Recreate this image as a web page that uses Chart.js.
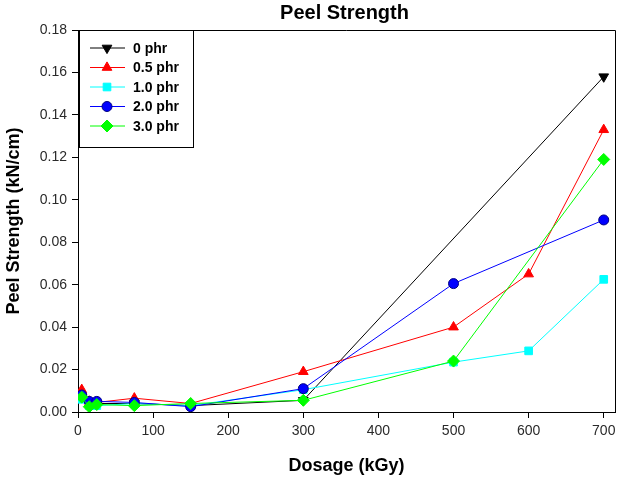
<!DOCTYPE html>
<html>
<head>
<meta charset="utf-8">
<script src="https://cdn.jsdelivr.net/npm/chart.js@4.4.1/dist/chart.umd.min.js"></script>
<style>
  html, body { margin: 0; padding: 0; background: #fff; }
  #wrap { width: 628px; height: 488px; }
</style>
</head>
<body>
<div id="wrap"><canvas id="c" width="628" height="488"></canvas></div>
<script>
// ---- data ----
const chartTitle = 'Peel Strength';
const seriesLabels = ['0 phr', '0.5 phr', '1.0 phr', '2.0 phr', '3.0 phr'];

const dose0   = [5, 15, 25, 75, 150, 300, 700];
const val0    = [0.007, 0.004, 0.004, 0.004, 0.003, 0.0055, 0.158];

const dose05  = [5, 15, 25, 75, 150, 300, 500, 600, 700];
const val05   = [0.0105, 0.005, 0.0045, 0.0065, 0.004, 0.019, 0.040, 0.065, 0.133];

const dose10  = [5, 15, 25, 75, 150, 300, 500, 600, 700];
const val10   = [0.006, 0.003, 0.003, 0.004, 0.003, 0.0105, 0.0235, 0.0288, 0.0625];

const dose20  = [5, 15, 25, 75, 150, 300, 500, 700];
const val20   = [0.008, 0.005, 0.005, 0.0045, 0.0025, 0.011, 0.0605, 0.0905];

const dose30  = [5, 15, 25, 75, 150, 300, 500, 700];
const val30   = [0.007, 0.0025, 0.0035, 0.003, 0.004, 0.0055, 0.024, 0.119];

const xTicks = [0, 100, 200, 300, 400, 500, 600, 700];
const yTicks = [0, 0.02, 0.04, 0.06, 0.08, 0.10, 0.12, 0.14, 0.16, 0.18];

function pts(xs, ys) { return xs.map((x, i) => ({ x: x, y: ys[i] })); }

const FONT = '"Liberation Sans", Arial, sans-serif';

const styles = [
  { color: '#000000', fill: '#000000', style: 'triangle', rot: 180, r: 5.6, order: 4 },
  { color: '#ff0000', fill: '#ff0000', style: 'triangle', rot: 0,   r: 5.6, order: 3 },
  { color: '#00ffff', fill: '#00ffff', style: 'rect',     rot: 0,   r: 5.4, order: 2 },
  { color: '#0000ff', fill: '#0000ff', style: 'circle',   rot: 0,   r: 5.0, order: 1 },
  { color: '#00ff00', fill: '#00ff00', style: 'rectRot',  rot: 0,   r: 6.0, order: 0 }
];
const sets = [pts(dose0, val0), pts(dose05, val05), pts(dose10, val10), pts(dose20, val20), pts(dose30, val30)];

const datasets = sets.map((d, i) => ({
  label: seriesLabels[i],
  data: d,
  borderColor: styles[i].color,
  backgroundColor: styles[i].fill,
  pointBackgroundColor: styles[i].fill,
  pointBorderColor: i === 3 ? '#000080' : styles[i].color,
  pointBorderWidth: 1,
  pointStyle: styles[i].style,
  pointRotation: styles[i].rot,
  pointRadius: styles[i].r,
  pointHoverRadius: styles[i].r,
  borderWidth: 1,
  tension: 0,
  fill: false,
  order: styles[i].order
}));

const framePlugin = {
  id: 'frame',
  afterDatasetsDraw(chart) {
    const { ctx, chartArea: a } = chart;
    ctx.save();
    ctx.strokeStyle = '#000';
    ctx.lineWidth = 1;
    ctx.beginPath();
    ctx.moveTo(a.left, a.top + 0.5);
    ctx.lineTo(a.right + 0.5, a.top + 0.5);
    ctx.lineTo(a.right + 0.5, a.bottom);
    ctx.stroke();
    // title centred over the plot area
    ctx.fillStyle = '#000';
    ctx.font = 'bold 20px ' + FONT;
    ctx.textAlign = 'center';
    ctx.textBaseline = 'alphabetic';
    ctx.fillText(chartTitle, (a.left + a.right) / 2 - 2, 19);
    ctx.restore();
  }
};

const legendPlugin = {
  id: 'boxLegend',
  afterDraw(chart) {
    const { ctx, chartArea: a } = chart;
    const x0 = a.left + 1, y0 = a.top, w = 114, h = 117;
    ctx.save();
    ctx.fillStyle = '#fff';
    ctx.fillRect(x0, y0, w, h);
    ctx.strokeStyle = '#000';
    ctx.lineWidth = 1;
    ctx.strokeRect(x0 + 0.5, y0 + 0.5, w, h);
    chart.data.datasets.forEach((ds, i) => {
      const y = y0 + 18 + i * 19.5;
      ctx.strokeStyle = ds.borderColor;
      ctx.lineWidth = 1;
      ctx.beginPath();
      ctx.moveTo(x0 + 11, y);
      ctx.lineTo(x0 + 46, y);
      ctx.stroke();
      ctx.fillStyle = ds.pointBackgroundColor;
      ctx.strokeStyle = ds.pointBorderColor;
      Chart.helpers.drawPoint(ctx, {
        pointStyle: ds.pointStyle, rotation: ds.pointRotation,
        radius: ds.pointRadius, borderWidth: 1
      }, x0 + 28, y);
      ctx.fillStyle = '#000';
      ctx.font = 'bold 14px ' + FONT;
      ctx.textBaseline = 'middle';
      ctx.textAlign = 'left';
      ctx.fillText(ds.label, x0 + 54, y + 1);
    });
    ctx.restore();
  }
};

new Chart(document.getElementById('c'), {
  type: 'line',
  data: { datasets: datasets },
  plugins: [framePlugin, legendPlugin],
  options: {
    responsive: false,
    animation: false,
    layout: { padding: { left: 0, right: 13, top: 30, bottom: 0 } },
    plugins: {
      legend: { display: false },
      tooltip: { enabled: false },
      title: { display: false }
    },
    scales: {
      x: {
        type: 'linear',
        min: 0,
        max: 715,
        afterFit(s) { s.height = 76; },
        afterBuildTicks(s) { s.ticks = xTicks.map(v => ({ value: v })); },
        grid: { display: true, drawOnChartArea: false, drawTicks: true, tickLength: 6, color: '#000' },
        border: { display: true, color: '#000', width: 1 },
        ticks: {
          color: '#2a2a2a', padding: 5,
          font: { family: FONT, size: 14 },
          maxRotation: 0,
          callback: v => String(v)
        },
        title: {
          display: true, text: 'Dosage (kGy)', color: '#000',
          font: { family: FONT, size: 18, weight: 'bold' },
          padding: { top: 0, bottom: 11 }
        }
      },
      y: {
        type: 'linear',
        min: 0,
        max: 0.18,
        afterFit(s) { s.width = 78; },
        afterBuildTicks(s) { s.ticks = yTicks.map(v => ({ value: v })); },
        grid: { display: true, drawOnChartArea: false, drawTicks: true, tickLength: 6, color: '#000' },
        border: { display: true, color: '#000', width: 1 },
        ticks: {
          color: '#2a2a2a', padding: 5,
          font: { family: FONT, size: 14 },
          callback: v => Number(v).toFixed(2)
        },
        title: {
          display: true, text: 'Peel Strength (kN/cm)', color: '#000',
          font: { family: FONT, size: 18, weight: 'bold' },
          padding: { top: 3, bottom: 0 }
        }
      }
    }
  }
});
</script>
</body>
</html>
